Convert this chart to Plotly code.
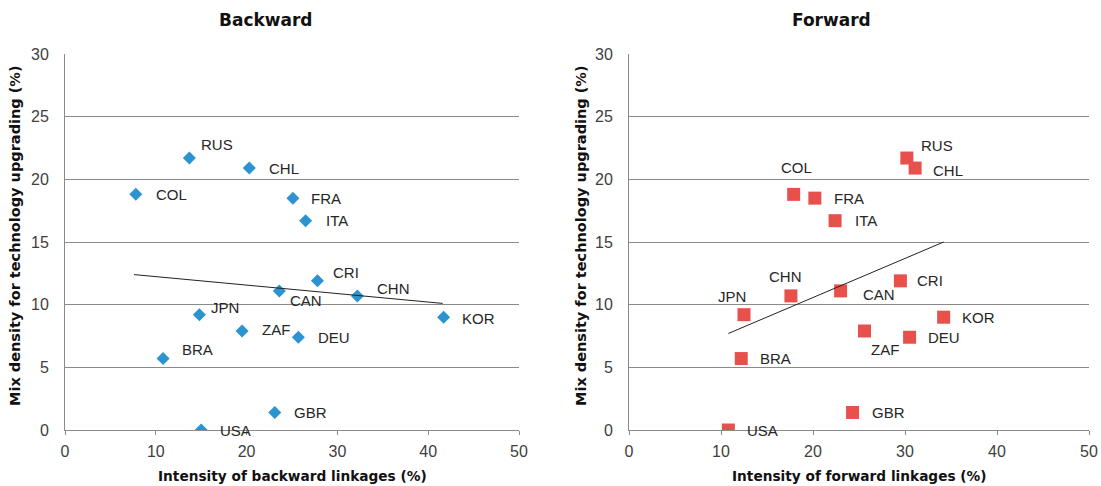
import plotly.graph_objects as go

# ---------------- data ----------------
countries = ["RUS", "CHL", "COL", "FRA", "ITA", "CRI", "CAN", "CHN", "JPN", "KOR",
             "ZAF", "DEU", "BRA", "GBR", "USA"]
mix_density = [21.7, 20.9, 18.8, 18.5, 16.7, 11.9, 11.1, 10.7, 9.2, 9.0,
               7.9, 7.4, 5.7, 1.4, 0.0]
backward = [13.7, 20.3, 7.8, 25.1, 26.5, 27.8, 23.6, 32.2, 14.8, 41.7,
            19.5, 25.7, 10.8, 23.1, 15.0]
forward = [30.2, 31.1, 17.9, 20.2, 22.4, 29.5, 23.0, 17.6, 12.5, 34.2,
           25.6, 30.5, 12.2, 24.3, 10.8]

trend_backward_x = [7.6, 41.6]
trend_backward_y = [12.4, 10.1]
trend_forward_x = [10.8, 34.2]
trend_forward_y = [7.7, 15.0]

x_ticks = [0, 10, 20, 30, 40, 50]
y_ticks = [0, 5, 10, 15, 20, 25, 30]

# ---------------- label styling (anchor, xshift px, yshift px) ----------------
left_label_style = {
    "RUS": ("left", 10, 14), "CHL": ("left", 18, 0), "COL": ("left", 18, 0),
    "FRA": ("left", 16, 0), "ITA": ("left", 18, 0), "CRI": ("left", 14, 8),
    "CAN": ("left", 9, -10), "CHN": ("left", 18, 7), "JPN": ("left", 10, 7),
    "KOR": ("left", 16, -1), "ZAF": ("left", 18, 1), "DEU": ("left", 18, 0),
    "BRA": ("left", 17, 9), "GBR": ("left", 17, 0), "USA": ("left", 17, 0),
}
right_label_style = {
    "RUS": ("left", 12, 13), "CHL": ("left", 16, -2), "COL": ("center", 3, 27),
    "FRA": ("left", 17, 0), "ITA": ("left", 18, 0), "CRI": ("left", 15, 0),
    "CAN": ("left", 20, -4), "CHN": ("center", -5, 19), "JPN": ("center", -12, 18),
    "KOR": ("left", 16, 0), "ZAF": ("center", 20, -19), "DEU": ("left", 16, 0),
    "BRA": ("left", 17, 0), "GBR": ("left", 17, 0), "USA": ("left", 17, 0),
}

W, H = 1101, 486
FONT = "Liberation Sans, Arial, sans-serif"
BOLD = "DejaVu Sans, sans-serif"
GRID = "#8a8a8a"
BLUE = "#2b93cf"
RED = "#e8504c"

fig = go.Figure()

fig.add_trace(go.Scatter(x=backward, y=mix_density, mode="markers",
                         marker=dict(symbol="diamond", size=10, color=BLUE),
                         xaxis="x", yaxis="y", showlegend=False))
fig.add_trace(go.Scatter(x=trend_backward_x, y=trend_backward_y, mode="lines",
                         line=dict(color="#222222", width=1),
                         xaxis="x", yaxis="y", showlegend=False))
fig.add_trace(go.Scatter(x=forward, y=mix_density, mode="markers",
                         marker=dict(symbol="square", size=13, color=RED),
                         xaxis="x2", yaxis="y2", showlegend=False))
fig.add_trace(go.Scatter(x=trend_forward_x, y=trend_forward_y, mode="lines",
                         line=dict(color="#222222", width=1),
                         xaxis="x2", yaxis="y2", showlegend=False))

annotations = []
for xs, style, xr, yr in [(backward, left_label_style, "x", "y"),
                          (forward, right_label_style, "x2", "y2")]:
    for c, xv, yv in zip(countries, xs, mix_density):
        anchor, dx, dy = style[c]
        annotations.append(dict(x=xv, y=yv, xref=xr, yref=yr, text=c,
                                showarrow=False, xanchor=anchor, yanchor="middle",
                                xshift=dx, yshift=dy,
                                font=dict(family=FONT, size=15, color="#262626")))

# titles
annotations += [
    dict(x=266 / W, y=1 - 20 / H, xref="paper", yref="paper", text="<b>Backward</b>",
         showarrow=False, xanchor="center", yanchor="middle",
         font=dict(family=BOLD, size=17, color="#111111")),
    dict(x=831 / W, y=1 - 20 / H, xref="paper", yref="paper", text="<b>Forward</b>",
         showarrow=False, xanchor="center", yanchor="middle",
         font=dict(family=BOLD, size=17, color="#111111")),
    dict(x=292 / W, y=1 - 476 / H, xref="paper", yref="paper",
         text="<b>Intensity of backward linkages (%)</b>",
         showarrow=False, xanchor="center", yanchor="middle",
         font=dict(family=BOLD, size=13.7, color="#111111")),
    dict(x=859 / W, y=1 - 476 / H, xref="paper", yref="paper",
         text="<b>Intensity of forward linkages (%)</b>",
         showarrow=False, xanchor="center", yanchor="middle",
         font=dict(family=BOLD, size=13.7, color="#111111")),
    dict(x=15 / W, y=1 - 236 / H, xref="paper", yref="paper",
         text="<b>Mix density for technology upgrading (%)</b>", textangle=-90,
         showarrow=False, xanchor="center", yanchor="middle",
         font=dict(family=BOLD, size=14.5, color="#111111")),
    dict(x=581 / W, y=1 - 236 / H, xref="paper", yref="paper",
         text="<b>Mix density for technology upgrading (%)</b>", textangle=-90,
         showarrow=False, xanchor="center", yanchor="middle",
         font=dict(family=BOLD, size=14.5, color="#111111")),
]

ydom = [(H - 430) / H, (H - 54) / H]
xaxis_common = dict(range=[0, 50], tickvals=x_ticks, showgrid=False, zeroline=False,
                    showline=True, linecolor=GRID, linewidth=1,
                    ticks="outside", ticklen=4, tickcolor=GRID,
                    tickfont=dict(family=FONT, size=16, color="#404040"),
                    ticklabelstandoff=3, fixedrange=True, automargin=False)
yaxis_common = dict(range=[0, 30], tickvals=y_ticks, showgrid=True, gridcolor=GRID,
                    gridwidth=1, zeroline=False, showline=True, linecolor=GRID,
                    linewidth=1, ticks="", domain=ydom,
                    tickfont=dict(family=FONT, size=16, color="#404040"),
                    ticklabelstandoff=12, fixedrange=True, automargin=False)

fig.update_layout(
    width=W, height=H,
    margin=dict(l=0, r=0, t=0, b=0, autoexpand=False),
    paper_bgcolor="white", plot_bgcolor="white",
    xaxis=dict(domain=[65 / W, 519 / W], anchor="y", **xaxis_common),
    yaxis=dict(anchor="x", **yaxis_common),
    xaxis2=dict(domain=[629 / W, 1089 / W], anchor="y2", **xaxis_common),
    yaxis2=dict(anchor="x2", **yaxis_common),
    annotations=annotations,
    showlegend=False,
)

fig.write_html(
    "out.html",
    config={"displayModeBar": False},
    post_script="document.body.style.margin='0';document.body.style.overflow='hidden';",
)
